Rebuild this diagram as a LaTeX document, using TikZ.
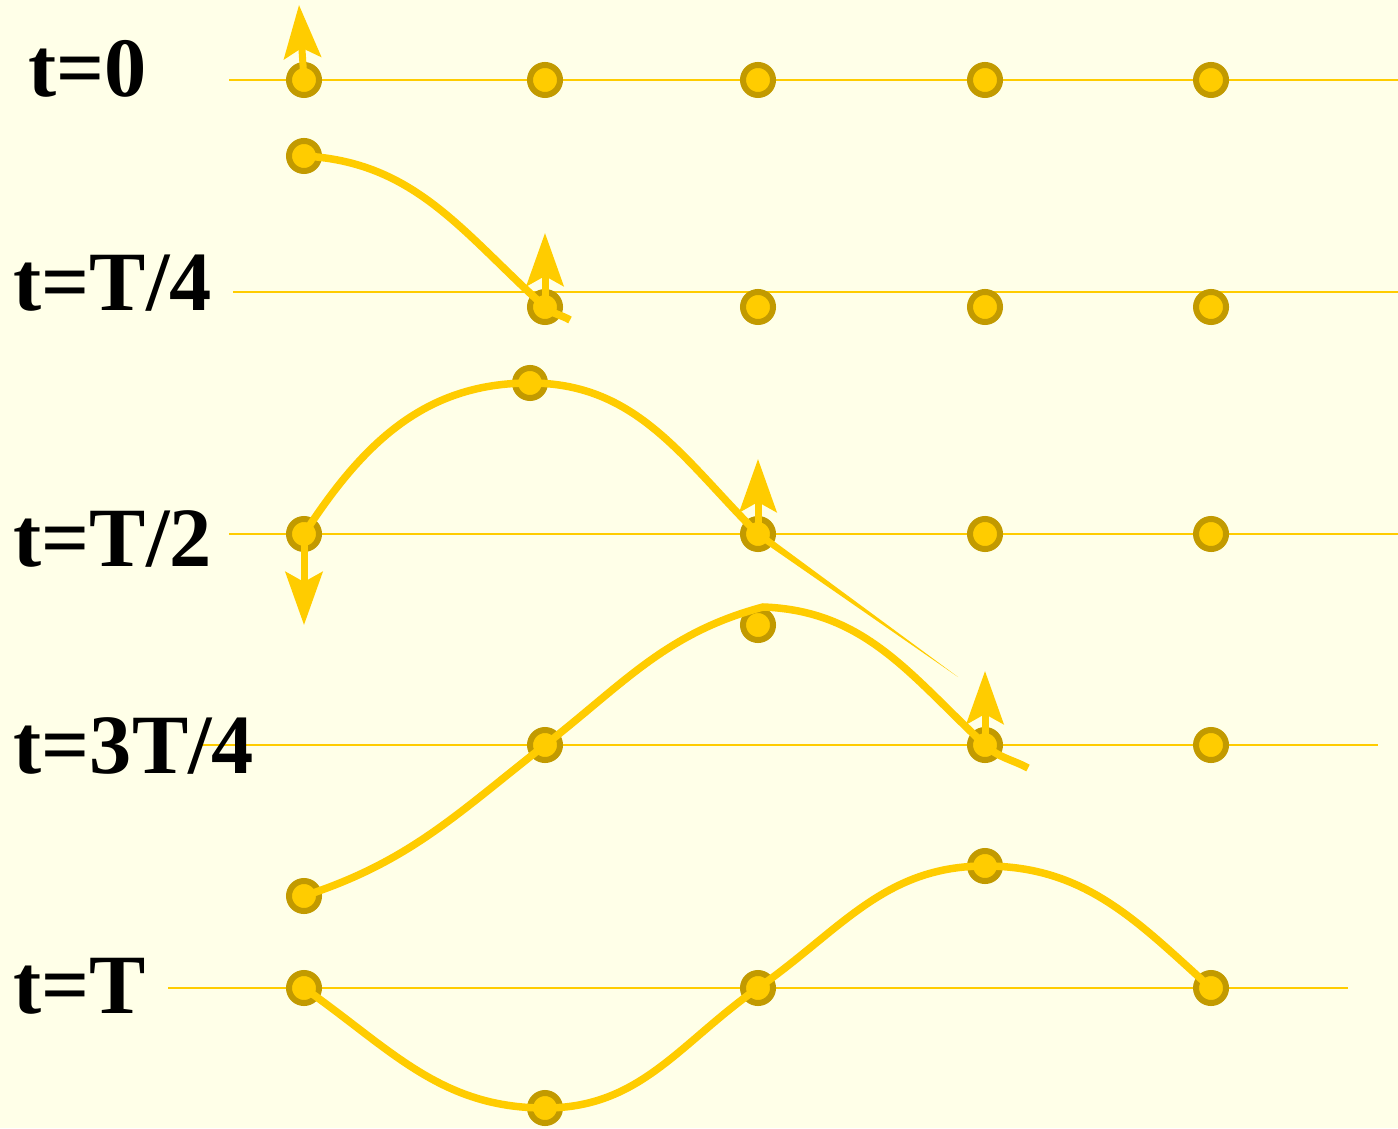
\documentclass[tikz,border=0pt]{standalone}
\usepackage{fontspec}
\setmainfont{Liberation Serif}
\usepackage{tikz}
\usetikzlibrary{arrows.meta}

\definecolor{paper}{HTML}{FFFFE8}
\definecolor{gold}{HTML}{FFCC00}
\definecolor{darkgold}{HTML}{C29A00}

\begin{document}
\begin{tikzpicture}[x=0.01cm, y=-0.01cm,
    dot/.style={shape=circle, draw=darkgold, fill=gold, line width=0.06cm, minimum size=0.3cm, inner sep=0pt},
    level/.style={draw=gold, line width=0.02cm},
    wave/.style={draw=gold, line width=0.075cm},
    kick/.style={draw=gold, line width=0.07cm, -{Stealth[length=0.53cm, width=0.37cm, inset=0.1cm]}},
    lab/.style={anchor=base west, inner sep=0pt, font=\fontsize{24}{29}\selectfont\bfseries}]
    \fill[paper] (0,0) rectangle (1398,1128);
    \useasboundingbox (0,0) rectangle (1398,1128);

    \draw[level] (229,80) -- (1398,80);
    \draw[level] (233,292) -- (1398,292);
    \draw[level] (229,534) -- (1398,534);
    \draw[level] (200,745) -- (1378,745);
    \draw[level] (168,988) -- (1348,988);

    \node[lab] (l1) at (28,97) {t=0};
    \node[lab] (l2) at (13,311) {t=T/4};
    \node[lab] (l3) at (13,566) {t=T/2};
    \node[lab] (l4) at (13,773) {t=3T/4};
    \node[lab] (l5) at (13,1013) {t=T};

    \node[dot] at (304,80) (d11) {};
    \node[dot] at (545,80) (d12) {};
    \node[dot] at (758,80) (d13) {};
    \node[dot] at (985,80) (d14) {};
    \node[dot] at (1211,80) (d15) {};

    \node[dot] at (304,156) (d21) {};
    \node[dot] at (545,307) (d22) {};
    \node[dot] at (758,307) (d23) {};
    \node[dot] at (985,307) (d24) {};
    \node[dot] at (1211,307) (d25) {};

    \node[dot] at (304,534) (d31) {};
    \node[dot] at (530,383) (d32) {};
    \node[dot] at (758,534) (d33) {};
    \node[dot] at (985,534) (d34) {};
    \node[dot] at (1211,534) (d35) {};

    \node[dot] at (304,896) (d41) {};
    \node[dot] at (545,745) (d42) {};
    \node[dot] at (758,625) (d43) {};
    \node[dot] at (985,745) (d44) {};
    \node[dot] at (1211,745) (d45) {};

    \node[dot] at (304,988) (d51) {};
    \node[dot] at (545,1108) (d52) {};
    \node[dot] at (758,988) (d53) {};
    \node[dot] at (985,866) (d54) {};
    \node[dot] at (1211,988) (d55) {};

    \coordinate (e2) at (570,320);
    \coordinate (t3) at (958,677);
    \coordinate (p4) at (763,607);
    \coordinate (e4) at (1028,768);

    \draw[wave] (d21.center) to[out=-3, in=138] (d22.center) to[out=-42, in=150] (e2);
    \draw[wave] (d31.center) to[out=57, in=180] (d32.center) to[out=0, in=135] (d33.center);
    \fill[gold] ([shift={(2,-3)}]d33.center) -- (t3) -- ([shift={(-2,3)}]d33.center) -- cycle;
    \draw[wave] (d41.center) to[out=18, in=-142] (d42.center) to[out=38, in=195] (p4) to[out=-2, in=137] (d44.center) to[out=-43, in=152] (e4);
    \draw[wave] (d51.center) to[out=-35, in=180] (d52.center) to[out=0, in=-145] (d53.center) to[out=35, in=180] (d54.center) to[out=0, in=138] (d55.center);

    \coordinate (a1) at (299,5);
    \coordinate (a2) at (545,233);
    \coordinate (a3) at (304,625);
    \coordinate (a4) at (758,459);
    \coordinate (a5) at (985,671);

    \draw[kick] (d11.center) -- (a1);
    \draw[kick] (d22.center) -- (a2);
    \draw[kick] (d31.center) -- (a3);
    \draw[kick] (d33.center) -- (a4);
    \draw[kick] (d44.center) -- (a5);
\end{tikzpicture}
\end{document}
